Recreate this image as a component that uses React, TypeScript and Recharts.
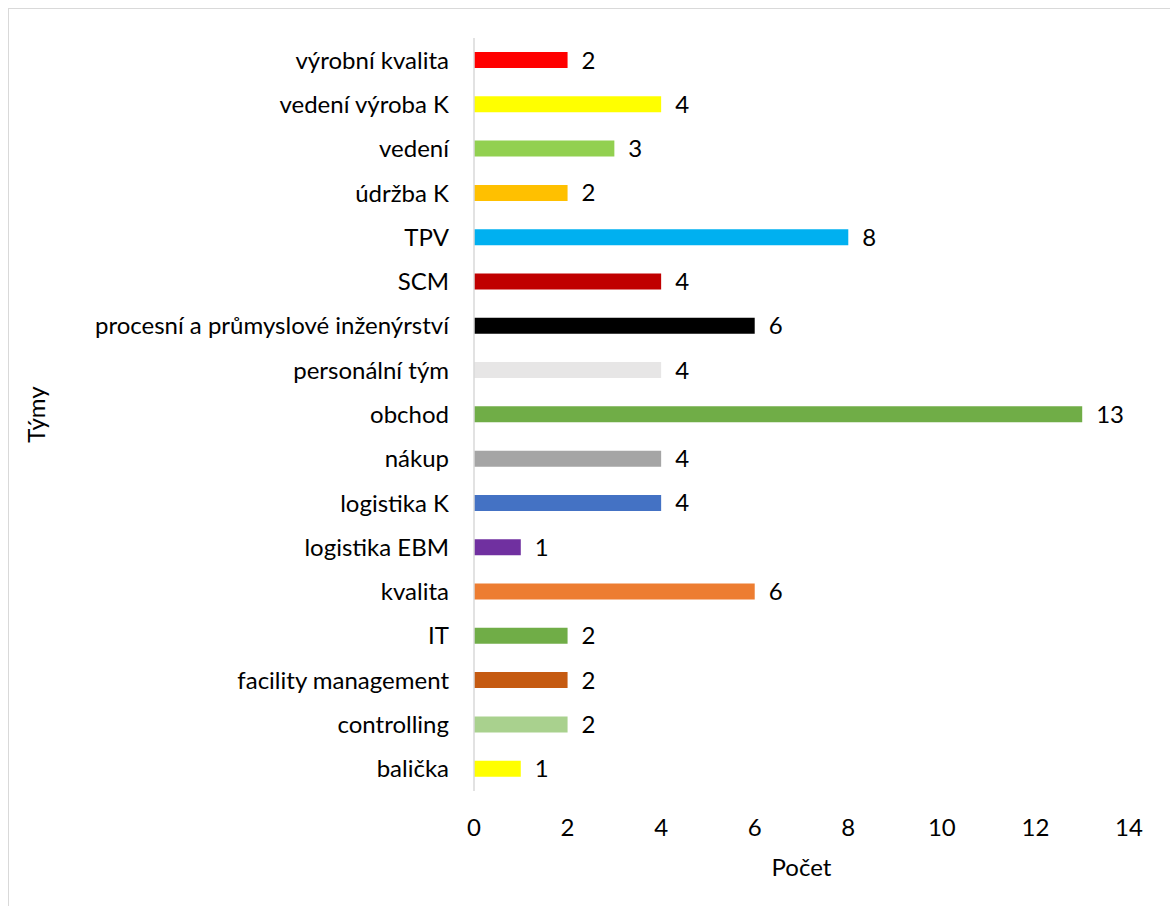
import React from 'react';
import { BarChart, Bar, XAxis, YAxis, Cell, LabelList, Label } from 'recharts';

const teams = [
  'výrobní kvalita',
  'vedení výroba K',
  'vedení',
  'údržba K',
  'TPV',
  'SCM',
  'procesní a průmyslové inženýrství',
  'personální tým',
  'obchod',
  'nákup',
  'logistika K',
  'logistika EBM',
  'kvalita',
  'IT',
  'facility management',
  'controlling',
  'balička',
];

const counts = [2, 4, 3, 2, 8, 4, 6, 4, 13, 4, 4, 1, 6, 2, 2, 2, 1];

const barColors = [
  '#FF0000',
  '#FFFF00',
  '#92D050',
  '#FFC000',
  '#00B0F0',
  '#C00000',
  '#000000',
  '#E7E6E6',
  '#70AD47',
  '#A5A5A5',
  '#4472C4',
  '#7030A0',
  '#ED7D31',
  '#70AD47',
  '#C55A11',
  '#A9D18E',
  '#FFFF00',
];

const xTicks = [0, 2, 4, 6, 8, 10, 12, 14];

const data = teams.map((team, i) => ({ team, count: counts[i] }));

const FONT = 'Lato, "Open Sans", sans-serif';
const FONT_SIZE = 24;

const YTitle = ({ viewBox }: any) => {
  const cy = viewBox.y + viewBox.height / 2;
  return (
    <text
      x={26}
      y={cy}
      transform={`rotate(-90, 26, ${cy})`}
      textAnchor="middle"
      dominantBaseline="central"
      fill="#000"
      fontSize={FONT_SIZE}
      fontFamily={FONT}
    >
      Týmy
    </text>
  );
};

const XTitle = ({ viewBox }: any) => (
  <text
    x={viewBox.x + viewBox.width / 2}
    y={viewBox.y + 75}
    textAnchor="middle"
    dominantBaseline="central"
    fill="#000"
    fontSize={FONT_SIZE}
    fontFamily={FONT}
  >
    Počet
  </text>
);

export default function App() {
  return (
    <div
      style={{
        width: 1162,
        height: 897,
        borderTop: '1px solid #d9d9d9',
        borderLeft: '1px solid #d9d9d9',
        background: '#fff',
        fontFamily: FONT,
        overflow: 'hidden',
      }}
    >
      <style>{'body{margin:8px 0 0 8px;}'}</style>
      <BarChart
        width={1160}
        height={896}
        data={data}
        layout="vertical"
        margin={{ top: 29, right: 40, left: 0, bottom: 0 }}
      >
        <XAxis
          type="number"
          domain={[0, 14]}
          ticks={xTicks}
          axisLine={false}
          tickLine={false}
          tickMargin={22}
          height={114}
          tick={{ fill: '#000', fontSize: FONT_SIZE, fontFamily: FONT }}
        >
          <Label content={<XTitle />} />
        </XAxis>
        <YAxis
          type="category"
          dataKey="team"
          width={465}
          axisLine={{ stroke: '#d9d9d9', strokeWidth: 1.5 }}
          tickLine={false}
          tickMargin={19}
          interval={0}
          tick={{ fill: '#000', fontSize: FONT_SIZE, fontFamily: FONT }}
        >
          <Label content={<YTitle />} />
        </YAxis>
        <Bar dataKey="count" barSize={16} isAnimationActive={false}>
          {data.map((d, i) => (
            <Cell key={d.team} fill={barColors[i]} />
          ))}
          <LabelList
            dataKey="count"
            position="right"
            offset={14}
            fill="#000"
            fontSize={FONT_SIZE}
            fontFamily={FONT}
          />
        </Bar>
      </BarChart>
    </div>
  );
}
